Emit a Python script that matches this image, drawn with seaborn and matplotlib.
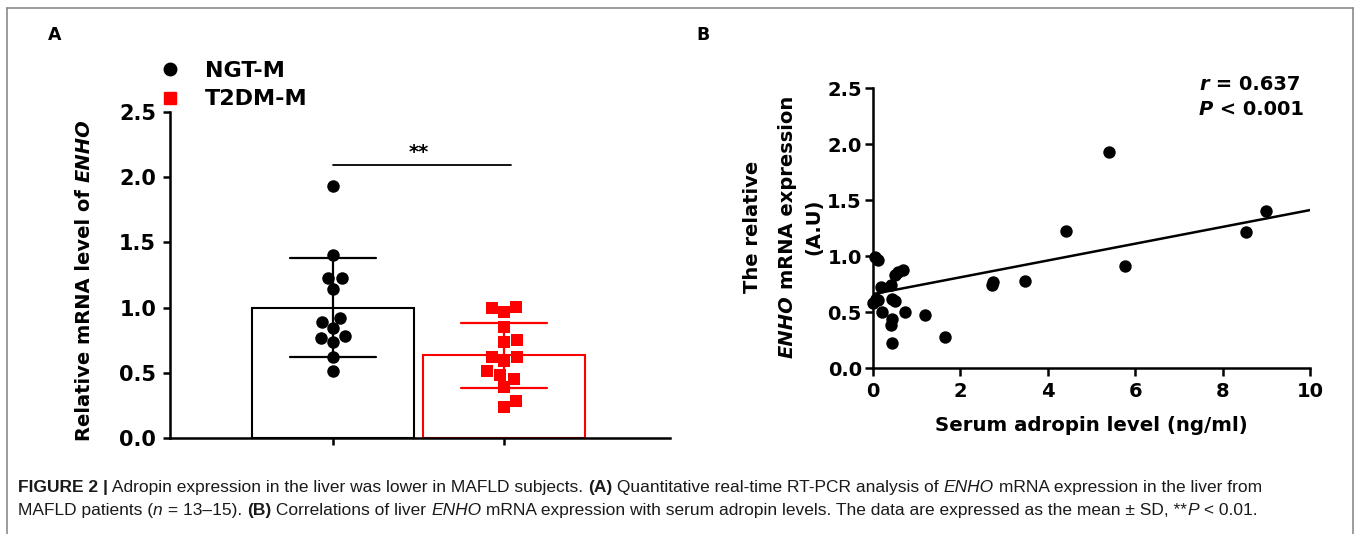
import matplotlib
matplotlib.use("Agg")
import numpy as np
import pandas as pd
import seaborn as sns
import matplotlib.pyplot as plt
from matplotlib.lines import Line2D
import matplotlib.font_manager as fm

# ---------------- data ----------------
groups = ["NGT-M", "T2DM-M"]
ngt_values = [1.93, 1.40, 1.23, 1.23, 1.14, 0.92, 0.89, 0.84, 0.77, 0.78, 0.74, 0.62, 0.51]
t2dm_values = [1.00, 0.97, 1.005, 0.85, 0.74, 0.75, 0.62, 0.59, 0.62, 0.51, 0.45, 0.48, 0.39, 0.28, 0.24]

adropin = [5.40, 4.42, 3.48, 5.77, 8.54, 9.00, 2.72, 2.75, 1.19, 1.65,
           0.05, 0.11, 0.18, 0.41, 0.50, 0.57, 0.69, 0.07, 0.00, 0.11,
           0.43, 0.50, 0.20, 0.73, 0.43, 0.41, 0.44]
enho = [1.93, 1.22, 0.78, 0.91, 1.21, 1.40, 0.74, 0.77, 0.47, 0.28,
        0.99, 0.96, 0.72, 0.74, 0.83, 0.86, 0.875, 0.62, 0.58, 0.61,
        0.62, 0.60, 0.50, 0.50, 0.44, 0.38, 0.22]

# regression line as drawn in the reference
fit_x = [0.0, 10.0]
fit_y = [0.66, 1.41]

y_ticks = [0.0, 0.5, 1.0, 1.5, 2.0, 2.5]
x_ticks_b = [0, 2, 4, 6, 8, 10]
r_text = "0.637"
p_text = "0.001"

colors = {"NGT-M": "black", "T2DM-M": "#ff0000"}
markers = {"NGT-M": "o", "T2DM-M": "s"}

# ---------------- setup ----------------
sns.set_theme(style="ticks")
plt.rcParams["font.family"] = ["DejaVu Sans"]
plt.rcParams["text.color"] = "black"
plt.rcParams["axes.labelcolor"] = "black"
plt.rcParams["xtick.color"] = "black"
plt.rcParams["ytick.color"] = "black"
plt.rcParams["axes.edgecolor"] = "black"

W, H = 1358, 534
fig = plt.figure(figsize=(W / 100, H / 100), dpi=100)
fig.patch.set_facecolor("white")
renderer = fig.canvas.get_renderer()


def fx(px):
    return px / W


def fy(py):
    return 1 - py / H


def measure(s, **props):
    t = fig.text(0, 0, "|" + s + "|", **props)
    w1 = t.get_window_extent(renderer).width
    t.remove()
    t = fig.text(0, 0, "||", **props)
    w2 = t.get_window_extent(renderer).width
    t.remove()
    return w1 - w2


def hruns(x_px, y_px, runs, base, va="baseline"):
    x = x_px
    for s, p in runs:
        props = dict(base)
        props.update(p)
        fig.text(fx(x), fy(y_px), s, ha="left", va=va, **props)
        x += measure(s, **props)
    return x


def vruns(x_px, yc_px, runs, base):
    lens = []
    for s, p in runs:
        props = dict(base)
        props.update(p)
        lens.append(measure(s, **props))
    total = sum(lens)
    y = yc_px + total / 2
    for (s, p), L in zip(runs, lens):
        props = dict(base)
        props.update(p)
        fig.text(fx(x_px), fy(y), s, ha="center", va="bottom", rotation=90,
                 rotation_mode="default", **props)
        y -= L


# ---------------- panel A ----------------
df = pd.DataFrame({
    "group": ["NGT-M"] * len(ngt_values) + ["T2DM-M"] * len(t2dm_values),
    "value": ngt_values + t2dm_values,
})

axA = fig.add_axes([fx(170), fy(438), 500 / W, 326 / H])
sns.barplot(data=df, x="group", y="value", hue="group", order=groups,
            hue_order=groups, palette=colors, fill=False, errorbar="sd",
            capsize=0.5, width=0.95, linewidth=1.5,
            err_kws={"linewidth": 1.6}, legend=False, ax=axA)
for g in groups:
    sns.swarmplot(data=df[df["group"] == g], x="group", y="value", order=groups,
                  color=colors[g], marker=markers[g], size=9, linewidth=0,
                  ax=axA, zorder=4)

axA.set_xlim(-0.953, 1.97)
axA.set_ylim(0, 2.5)
axA.set_yticks(y_ticks)
axA.set_yticklabels([f"{v:.1f}" for v in y_ticks])
axA.set_xticks([0, 1])
axA.set_xticklabels(["", ""])
axA.set_xlabel("")
axA.set_ylabel("")
sns.despine(ax=axA)
for sp in ["left", "bottom"]:
    axA.spines[sp].set_linewidth(1.8)
axA.tick_params(axis="both", width=1.8, length=5, labelsize=15, pad=5)
for lab in axA.get_yticklabels():
    lab.set_fontweight("bold")

# significance bar
axA.plot([0, 1.04], [2.09, 2.09], color="black", lw=1.3)
axA.text(0.5, 2.12, "**", ha="center", va="bottom", fontsize=14, fontweight="bold")

# legend
handles = [Line2D([], [], linestyle="none", marker="o", color="black", markersize=9),
           Line2D([], [], linestyle="none", marker="s", color="#ff0000", markersize=8)]
fig.legend(handles, groups, loc="upper left", bbox_to_anchor=(fx(159), fy(61)),
           frameon=False, borderpad=0, borderaxespad=0, handlelength=1.0,
           handletextpad=1.05, labelspacing=0.38,
           prop={"weight": "bold", "size": 16})

# y label A
vruns(84, 280, [("Relative mRNA level of", {}), (" ", {}), ("ENHO", {"style": "italic"})],
      {"fontsize": 14, "fontweight": "bold"})

# panel letters
fig.text(fx(55), fy(35), "A", ha="center", va="center", fontsize=12.5, fontweight="bold")
fig.text(fx(703), fy(35), "B", ha="center", va="center", fontsize=12.5, fontweight="bold")

# ---------------- panel B ----------------
axB = fig.add_axes([fx(873), fy(368), 437 / W, 280 / H])
axB.set_xlim(0, 10)
axB.set_ylim(0, 2.5)
sns.scatterplot(x=adropin, y=enho, s=80, color="black", linewidth=0,
                clip_on=False, zorder=4, ax=axB)
sns.lineplot(x=fit_x, y=fit_y, color="black", lw=1.8, ax=axB)
axB.set_xlim(0, 10)
axB.set_ylim(0, 2.5)
axB.set_xticks(x_ticks_b)
axB.set_xticklabels([str(v) for v in x_ticks_b])
axB.set_yticks(y_ticks)
axB.set_yticklabels([f"{v:.1f}" for v in y_ticks])
sns.despine(ax=axB)
for sp in ["left", "bottom"]:
    axB.spines[sp].set_linewidth(1.8)
axB.tick_params(axis="both", width=1.8, length=6, labelsize=14, pad=2)
axB.tick_params(axis="x", pad=4)
for lab in axB.get_yticklabels() + axB.get_xticklabels():
    lab.set_fontweight("bold")
axB.set_xlabel("Serum adropin level (ng/ml)", fontsize=14.2, fontweight="bold", labelpad=11)

ybase = {"fontsize": 14, "fontweight": "bold"}
vruns(753, 227, [("The relative", {})], ybase)
vruns(787, 227, [("ENHO", {"style": "italic"}), (" ", {}), ("mRNA expression", {})], ybase)
vruns(814, 227, [("(A.U)", {})], ybase)

sbase = {"fontsize": 14, "fontweight": "bold"}
hruns(1199, 90, [("r", {"style": "italic"}), (" = " + r_text, {})], sbase)
hruns(1199, 115, [("P", {"style": "italic"}), (" < " + p_text, {})], sbase)

# ---------------- frame ----------------
fc = "#8a8a8a"
fig.add_artist(Line2D([fx(7), fx(7)], [fy(8), 0], color=fc, lw=1.2))
fig.add_artist(Line2D([fx(7), fx(1353)], [fy(8), fy(8)], color=fc, lw=1.2))
fig.add_artist(Line2D([fx(1353), fx(1353)], [fy(8), 0], color=fc, lw=1.2))

# ---------------- caption ----------------
names = {f.name for f in fm.fontManager.ttflist}
cap_family = "Liberation Sans Narrow" if "Liberation Sans Narrow" in names else "Liberation Sans"
line1 = [("FIGURE 2 |", {"weight": "bold"}), (" Adropin expression in the liver was lower in MAFLD subjects. ", {}),
         ("(A)", {"weight": "bold"}), (" Quantitative real-time RT-PCR analysis of ", {}),
         ("ENHO", {"style": "italic"}), (" mRNA expression in the liver from", {})]
line2 = [("MAFLD patients (", {}), ("n", {"style": "italic"}), (" = 13\u201315). ", {}),
         ("(B)", {"weight": "bold"}), (" Correlations of liver ", {}), ("ENHO", {"style": "italic"}),
         (" mRNA expression with serum adropin levels. The data are expressed as the mean \u00b1 SD, **", {}),
         ("P", {"style": "italic"}), (" < 0.01.", {})]

test = {"family": cap_family, "size": 12}
w12 = sum(measure(s, **{**test, **p}) for s, p in line1)
cap_size = 12 * (1247 / w12)
cbase = {"family": cap_family, "size": cap_size, "color": "#1a1a1a"}
hruns(18, 492, line1, cbase)
hruns(18, 515, line2, cbase)

fig.savefig("out.png", dpi=100, facecolor="white")
